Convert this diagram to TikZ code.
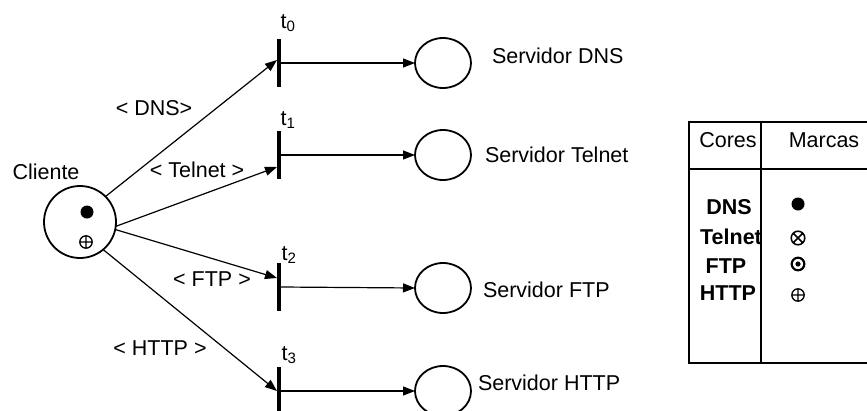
\documentclass[tikz,border=0pt]{standalone}
\usepackage{fontspec}
\setmainfont{Liberation Sans}
\usetikzlibrary{arrows.meta,shapes.geometric}

\tikzset{
  tokdot/.pic={\fill (0,0) circle (6.5);},
  tokplus/.pic={\draw[line width=1.3pt] (0,0) circle (6.2) (-6.2,0) -- (6.2,0) (0,-6.2) -- (0,6.2);},
  tokcross/.pic={\draw[line width=1.5pt] (0,0) circle (6.8) (-4.8,-4.8) -- (4.8,4.8) (-4.8,4.8) -- (4.8,-4.8);},
  tokring/.pic={\draw[line width=2.2pt] (0,0) circle (6.3); \fill (0,0) circle (2.6);}
}

\begin{document}
\begin{tikzpicture}[x=1pt,y=-1pt,
  every node/.style={font=\fontsize{21.5}{24}\selectfont, inner sep=0pt, outer sep=0pt},
  place/.style={draw, line width=1.8pt, ellipse, minimum width=56pt, minimum height=50pt},
  client/.style={draw, line width=1.8pt, circle, minimum size=72pt},
  trans/.style={fill=black, rectangle, minimum width=4pt, minimum height=48pt},
  arc/.style={line width=1.2pt, -{Triangle[length=12pt,width=9pt]}},
  link/.style={line width=1.2pt},
  tab/.style={line width=1.6pt},
  hdr/.style={font=\bfseries\fontsize{21.5}{24}\selectfont}
]
\useasboundingbox (0,0) rectangle (867,410);
\clip (0,0) rectangle (867,410);

% client place with its tokens
\node[client] (cli) at (80,222) {};
\node (clilbl) at (46,172) {Cliente};
\pic at (87,212) {tokdot};
\pic at (86,242) {tokplus};

% transitions
\node[trans] (t0) at (279,63) {};
\node[trans] (t1) at (279,155) {};
\node[trans] (t2) at (279,287) {};
\node[trans] (t3) at (279,391) {};
\node (t0l) at (288,23) {t\textsubscript{0}};
\node (t1l) at (288,120) {t\textsubscript{1}};
\node (t2l) at (289,255) {t\textsubscript{2}};
\node (t3l) at (289,355) {t\textsubscript{3}};

% server places
\node[place] (p0) at (443,63) {};
\node[place] (p1) at (443,155) {};
\node[place] (p2) at (443,288) {};
\node[place] (p3) at (443,391) {};
\node[anchor=west] (p0l) at (492,56) {Servidor DNS};
\node[anchor=west] (p1l) at (485,155) {Servidor Telnet};
\node[anchor=west] (p2l) at (483,290) {Servidor FTP};
\node[anchor=west] (p3l) at (478,383) {Servidor HTTP};

% input arcs with their colour labels
\draw[arc] (cli.45) -- ([yshift=3pt]t0.west);
\draw[arc] (cli.-7) -- ([yshift=-12pt]t1.west);
\draw[arc] (cli.-12) -- ([yshift=9pt]t2.west);
\draw[arc] (cli.-50) -- (t3.west);
\node (a0) at (154,108) {< DNS>};
\node (a1) at (197,170) {< Telnet >};
\node (a2) at (212,279) {< FTP >};
\node (a3) at (160,348) {< HTTP >};

% output arcs
\draw[arc] (t0.east) -- (p0.west);
\draw[arc] (t1.east) -- (p1.west);
\draw[arc] (t2.east) -- (p2.west);
\draw[arc] (t3.east) -- (p3.west);

% colour / token table
\draw[tab] (872,122) -- (689,122) -- (689,363) -- (872,363);
\draw[tab] (761,122) -- (761,363);
\draw[tab] (689,169) -- (872,169);
\node (hc) at (728,140) {Cores};
\node (hm) at (824,140) {Marcas};
\node[hdr] (rdns) at (729,207) {DNS};
\node[hdr] (rtel) at (731,237) {Telnet};
\node[hdr] (rftp) at (726,266) {FTP};
\node[hdr] (rhttp) at (728,293) {HTTP};
\pic at (798,204) {tokdot};
\pic at (798,238) {tokcross};
\pic at (798,264) {tokring};
\pic at (798,295) {tokplus};
\end{tikzpicture}
\end{document}
